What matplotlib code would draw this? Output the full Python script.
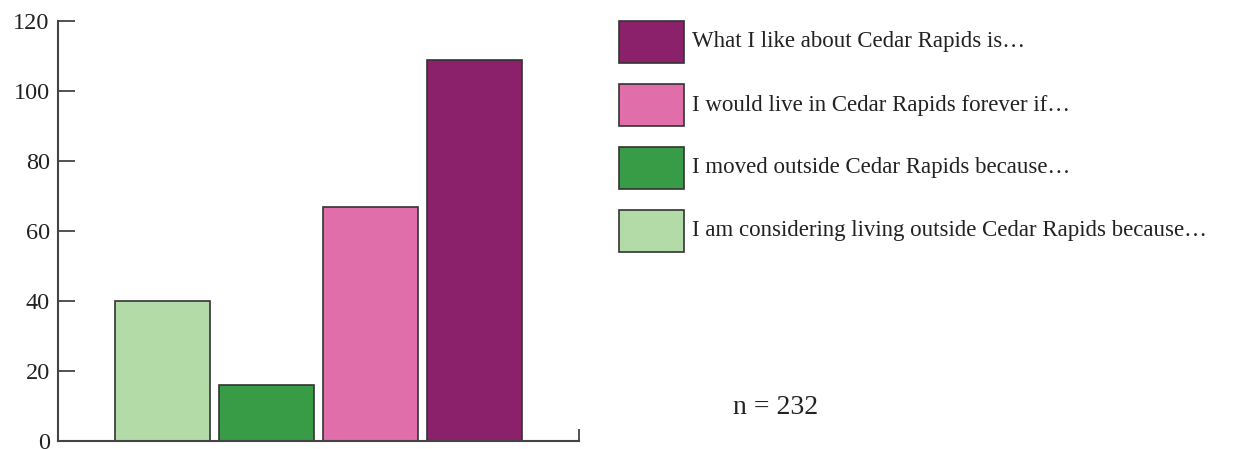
import matplotlib
matplotlib.use("Agg")
import matplotlib.pyplot as plt
from matplotlib.patches import Rectangle

categories = ["I am considering living outside Cedar Rapids because…",
              "I moved outside Cedar Rapids because…",
              "I would live in Cedar Rapids forever if…",
              "What I like about Cedar Rapids is…"]
values = [40, 16, 67, 109]
colors = ["#b3dba8", "#389b46", "#df6eaa", "#8b206b"]
yticks = [0, 20, 40, 60, 80, 100, 120]
n_label = "n = 232"

plt.rcParams['font.family'] = ['Liberation Serif', 'DejaVu Serif']
W, H = 1254, 449
fig = plt.figure(figsize=(W/100, H/100), dpi=100)
ax = fig.add_axes([58/W, 1-441/H, (579-58)/W, (441-21)/H])

x = list(range(len(values)))
ax.bar(x, values, width=0.91, color=colors, edgecolor="#333333", linewidth=1.2)
ax.set_xlim(-1, 4)
ax.set_ylim(0, 120)
ax.set_yticks(yticks)
ax.set_yticklabels([str(t) for t in yticks], fontsize=17.5, color="#222222")
ax.set_xticks([4])
ax.set_xticklabels([])
ax.tick_params(axis='y', direction='in', length=12, width=1.3, color="#444444", pad=6)
ax.tick_params(axis='x', direction='in', length=9, width=1.3, color="#444444")
for s in ['top', 'right']:
    ax.spines[s].set_visible(False)
for s in ['left', 'bottom']:
    ax.spines[s].set_linewidth(1.5)
    ax.spines[s].set_color("#444444")

# legend (top to bottom: reverse of bar order)
ph, pw = 42, 65
for i, (lab, col) in enumerate(zip(categories[::-1], colors[::-1])):
    top = 21 + i*63
    fig.add_artist(Rectangle((619/W, 1-(top+ph)/H), pw/W, ph/H,
                             transform=fig.transFigure, facecolor=col,
                             edgecolor="#333333", linewidth=1.2))
    fig.text(692/W, 1-(top+ph/2)/H, lab, fontsize=16.5, va='center', ha='left',
             color="#222222")

fig.text(733/W, 1-408/H, n_label, fontsize=20, va='center', ha='left', color="#222222")

fig.savefig("out.png", dpi=100)
